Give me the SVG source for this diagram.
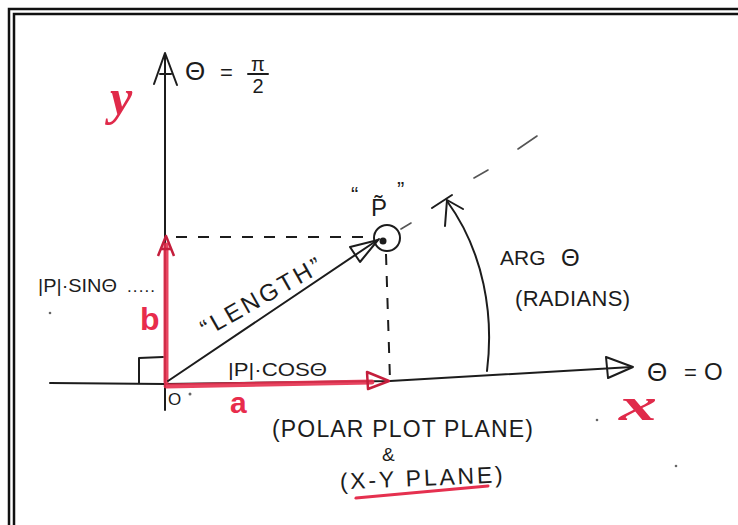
<svg xmlns="http://www.w3.org/2000/svg" width="738" height="525" viewBox="0 0 738 525">
<defs>
<style>
.ink{fill:none;stroke:#1c1c1c;stroke-width:2;stroke-linecap:round;stroke-linejoin:round}
.dash{fill:none;stroke:#1c1c1c;stroke-width:2;stroke-dasharray:11 11}
.faint{fill:none;stroke:#555;stroke-width:1.6;stroke-linecap:round}
.red{fill:none;stroke:#e5304f;stroke-width:5;stroke-linecap:round;opacity:0.9}
.redhead{fill:none;stroke:#c41e3c;stroke-width:2.5;stroke-linejoin:round}
.frame{fill:none;stroke:#111;stroke-width:2.5}
.t{font-family:"Liberation Sans","DejaVu Sans",sans-serif;fill:#1c1c1c}
.rs{font-family:"Liberation Serif","DejaVu Serif",serif;fill:#e02a4a;font-weight:bold;font-style:italic}
.rb{font-family:"Liberation Sans","DejaVu Sans",sans-serif;fill:#e82c4c;font-weight:bold}
.speck{fill:#666}
</style>
</defs>
<rect width="738" height="525" fill="#fff"/>
<g id="frame">
<path class="frame" d="M9,525 V9 H738"/>
<path class="frame" d="M14,525 V14 H738"/>
</g>
<g id="connectors">
<path class="ink" d="M165,410 L165,55"/>
<path class="ink" d="M154,84 L165,53 L177,85 M160,74 L171,74"/>
<path class="ink" d="M50,383 L165,384 L390,381 L632,367"/>
<path class="ink" d="M606,357 L633,367 L608,378 Z"/>
<path class="ink" d="M139,383 L139,358 L163,357"/>
<path class="red" d="M166,386 L372,382"/>
<path class="redhead" d="M367,372 L389,381 L368,389 Z"/>
<path class="red" d="M166,382 L166,245"/>
<path class="redhead" d="M158,256 L166,236 L174,256 M161,249 L171,249"/>
<path class="ink" d="M168,381 L379,239"/>
<path class="ink" d="M378,240 L350,247 L360,262 Z"/>
<path class="dash" d="M176,237 L374,237"/>
<path class="dash" d="M386,254 L390,380"/>
<path class="faint" d="M401,229 L411,223 M474,178 L488,170 M518,149 L537,136"/>
<path class="ink" d="M487,371 C494,315 484,252 447,201"/>
<path class="ink" d="M445,226 L447,200 L463,209 M432,208 L452,195"/>
<path d="M356,498 Q420,492 488,486" fill="none" stroke="#e5304f" stroke-width="3" stroke-linecap="round"/>
</g>
<g id="y-axis-label">
<text class="rs" x="110" y="114" font-size="50">y</text>
<text class="t" x="185" y="80" font-size="26">Θ</text>
<text class="t" x="220" y="80" font-size="22">=</text>
<text class="t" x="258" y="71" font-size="20" text-anchor="middle">π</text>
<path class="ink" d="M248,74 L268,74" stroke-width="1.5"/>
<text class="t" x="258" y="93" font-size="20" text-anchor="middle">2</text>
</g>
<g id="x-axis-label">
<text class="t" x="647" y="381" font-size="26">Θ</text>
<text class="t" x="684" y="380" font-size="22">=</text>
<text class="t" x="704" y="380" font-size="24">O</text>
<text class="rs" x="619" y="420" font-size="46" textLength="38" lengthAdjust="spacingAndGlyphs">x</text>
</g>
<g id="origin">
<text class="t" x="168" y="405" font-size="17">O</text>
<circle class="speck" cx="190" cy="394" r="1.5"/>
</g>
<g id="b-component">
<text class="t" x="38" y="292" font-size="18" textLength="79" lengthAdjust="spacingAndGlyphs">|P|·SINΘ</text>
<text class="t" x="127" y="292" font-size="17" textLength="28" lengthAdjust="spacing">.....</text>
<text class="rb" x="140" y="330" font-size="32">b</text>
</g>
<g id="a-component">
<text class="t" x="228" y="376" font-size="18" textLength="99" lengthAdjust="spacingAndGlyphs">|P|·COSΘ</text>
<text class="rb" x="230" y="413" font-size="30">a</text>
</g>
<g id="length-label">
<text class="t" font-size="24" text-anchor="middle" transform="translate(265,304) rotate(-29.5)" textLength="135" lengthAdjust="spacing">“LENGTH”</text>
</g>
<g id="point-p">
<circle cx="387" cy="238" r="13" fill="none" stroke="#1c1c1c" stroke-width="2"/>
<circle cx="383" cy="241" r="3.5" fill="#1c1c1c"/>
<text class="t" x="351" y="202" font-size="22">“</text>
<text class="t" x="371" y="216" font-size="24">P̃</text>
<text class="t" x="397" y="197" font-size="22">”</text>
</g>
<g id="arg-label">
<text class="t" x="500" y="265" font-size="21">ARG</text>
<text class="t" x="561" y="266" font-size="24">Θ</text>
<text class="t" x="515" y="306" font-size="22" textLength="115" lengthAdjust="spacing">(RADIANS)</text>
</g>
<g id="plane-label">
<text class="t" x="272" y="437" font-size="23" textLength="261" lengthAdjust="spacing">(POLAR PLOT PLANE)</text>
<text class="t" x="382" y="461" font-size="19">&amp;</text>
<text class="t" x="340" y="486" font-size="23" textLength="163" lengthAdjust="spacing" transform="rotate(-2.5 420 484)">(X-Y PLANE)</text>
</g>
<g id="specks">
<circle class="speck" cx="50" cy="313" r="1.3"/>
<circle class="speck" cx="597" cy="420" r="1.3"/>
<circle class="speck" cx="676" cy="466" r="1.3"/>
</g>
</svg>
